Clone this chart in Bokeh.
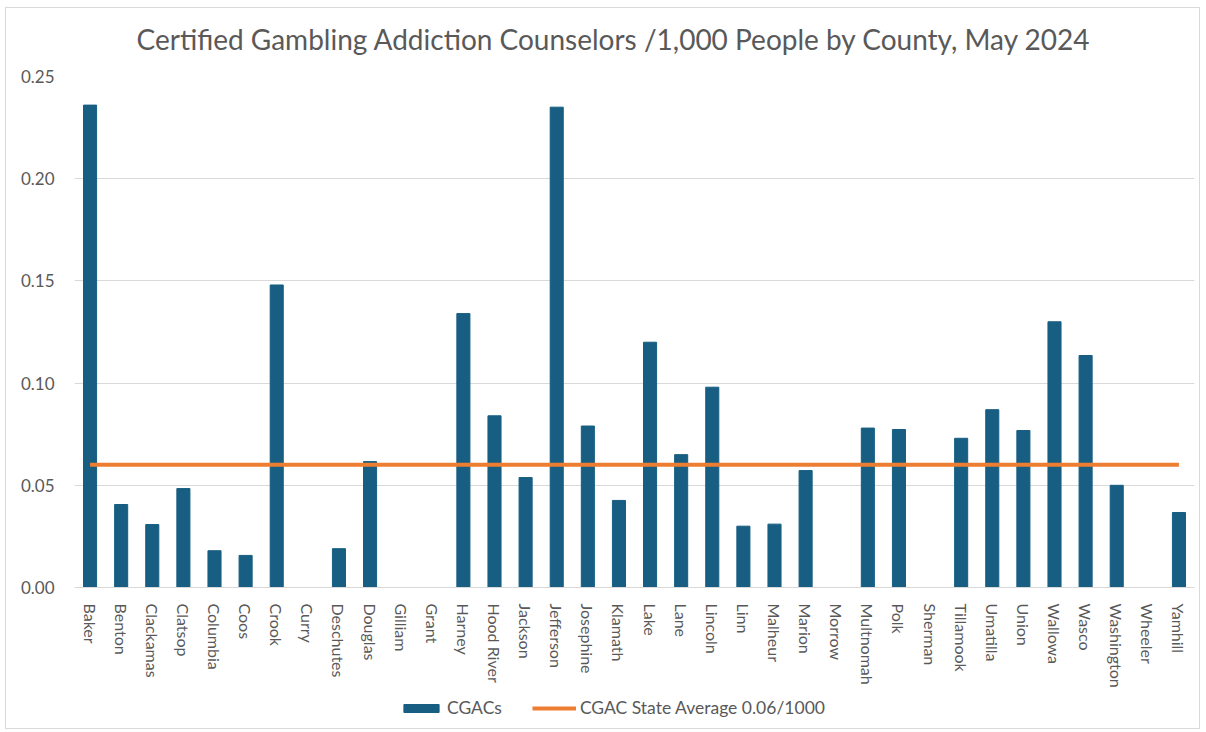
from bokeh.plotting import figure
from bokeh.layouts import column
from bokeh.models import (FactorRange, Range1d, FixedTicker, NumeralTickFormatter,
                          Legend, LegendItem, Title)
from bokeh.embed import file_html
from bokeh.resources import INLINE

counties = ["Baker", "Benton", "Clackamas", "Clatsop", "Columbia", "Coos", "Crook",
            "Curry", "Deschutes", "Douglas", "Gilliam", "Grant", "Harney", "Hood River",
            "Jackson", "Jefferson", "Josephine", "Klamath", "Lake", "Lane", "Lincoln",
            "Linn", "Malheur", "Marion", "Morrow", "Multnomah", "Polk", "Sherman",
            "Tillamook", "Umatilla", "Union", "Wallowa", "Wasco", "Washington",
            "Wheeler", "Yamhill"]
cgacs = [0.236, 0.0406, 0.0308, 0.0484, 0.018, 0.0157, 0.148,
         0.0, 0.019, 0.0616, 0.0, 0.0, 0.134, 0.084,
         0.0538, 0.235, 0.079, 0.0426, 0.120, 0.065, 0.098,
         0.030, 0.031, 0.0572, 0.0, 0.078, 0.0773, 0.0,
         0.073, 0.087, 0.0768, 0.130, 0.1135, 0.050,
         0.0, 0.0367]
state_avg = [0.06] * len(counties)
y_ticks = [0.0, 0.05, 0.10, 0.15, 0.20, 0.25]
title_text = "Certified Gambling Addiction Counselors /1,000 People by County, May 2024"

TEXT = "#595959"
FONT = "Lato"
BAR = "#175E82"
ORANGE = "#ED7D31"

# title strip
tp = figure(width=1193, height=49, output_backend="svg", toolbar_location=None,
            x_range=Range1d(0, 1), y_range=Range1d(0, 1),
            x_axis_type=None, y_axis_type=None,
            min_border_left=68, min_border_right=5, min_border_top=47,
            min_border_bottom=0)
tp.outline_line_color = None
tp.xgrid.visible = False
tp.ygrid.visible = False
tp.title = Title(text=title_text, align="left", offset=62, text_font=FONT,
                 text_font_size="28px", text_font_style="normal",
                 text_color=TEXT, standoff=0)

# main chart
p = figure(width=1193, height=633, output_backend="svg", toolbar_location=None,
           x_range=FactorRange(factors=counties, range_padding=0),
           y_range=Range1d(0, 0.25),
           min_border_left=68, min_border_right=5, min_border_top=19,
           min_border_bottom=103)

p.vbar(x=counties, top=cgacs, width=0.42, fill_color=BAR, line_color=BAR)
p.line(x=counties, y=state_avg, line_color=ORANGE, line_width=4)

p.outline_line_color = None
p.xgrid.grid_line_color = None
p.ygrid.grid_line_color = "#d9d9d9"
p.ygrid.grid_line_width = 1

yax = p.yaxis[0]
yax.ticker = FixedTicker(ticks=y_ticks)
yax.formatter = NumeralTickFormatter(format="0.00")
yax.axis_line_color = None
yax.major_tick_line_color = None
yax.minor_tick_line_color = None
yax.major_label_text_font = FONT
yax.major_label_text_font_size = "17px"
yax.major_label_text_color = TEXT
yax.major_label_standoff = 14

xax = p.xaxis[0]
xax.axis_line_color = "#d9d9d9"
xax.axis_line_width = 1
xax.major_tick_line_color = None
xax.minor_tick_line_color = None
xax.major_label_orientation = "vertical"
xax.major_label_text_font = FONT
xax.major_label_text_font_size = "16px"
xax.major_label_text_color = TEXT
xax.major_label_standoff = 10

# legend strip below the chart (same data, drawn outside its visible range)
lp = figure(width=1193, height=38, output_backend="svg", toolbar_location=None,
            x_range=FactorRange(factors=counties, range_padding=0),
            y_range=Range1d(1, 2),
            x_axis_type=None, y_axis_type=None, min_border=0)
lp.outline_line_color = None
lp.xgrid.visible = False
lp.ygrid.visible = False
lb = lp.vbar(x=counties, top=cgacs, width=0.42, fill_color=BAR, line_color=BAR)
ll = lp.line(x=counties, y=state_avg, line_color=ORANGE, line_width=4)
legend = Legend(items=[LegendItem(label="CGACs", renderers=[lb]),
                       LegendItem(label="CGAC State Average 0.06/1000", renderers=[ll])],
                orientation="horizontal", location=(325, 10),
                glyph_width=44, glyph_height=10, spacing=30, label_standoff=4,
                label_text_font=FONT, label_text_font_size="17.5px",
                label_text_color=TEXT, border_line_color=None,
                background_fill_alpha=0, margin=0, padding=4)
lp.add_layout(legend, "center")

layout = column(tp, p, lp, spacing=0)
layout.styles = {"border": "1px solid #d9d9d9", "margin-top": "7px", "margin-left": "5px"}

open("out.html", "w").write(file_html(layout, INLINE))
